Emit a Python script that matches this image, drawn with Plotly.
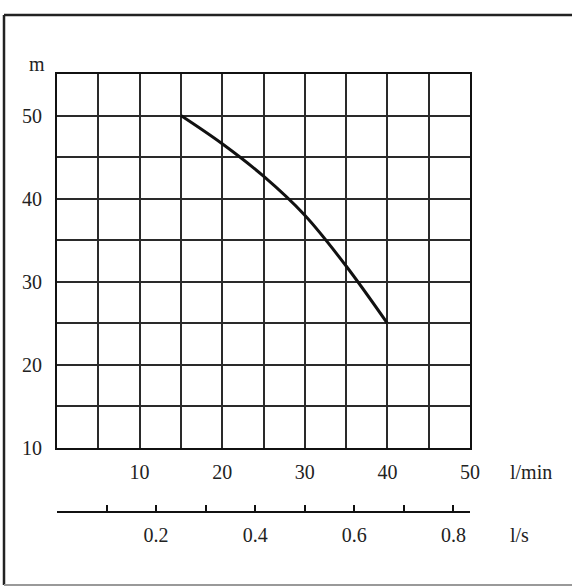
import plotly.graph_objects as go

# Data
flow_lpm = [15, 20, 25, 30, 35, 40]
head_m = [50, 46.6, 42.7, 38.0, 31.9, 25]

x_ticks = [10, 20, 30, 40, 50]
y_ticks = [10, 20, 30, 40, 50]
ls_ticks = [0.1, 0.2, 0.3, 0.4, 0.5, 0.6, 0.7, 0.8]
ls_labels = ["", "0.2", "", "0.4", "", "0.6", "", "0.8"]

W, H = 573, 588
L, R, T, B = 57, 103, 74, 40
pw, ph = W - L - R, H - T - B


def px(x):
    return (x - L) / pw


def py(y):
    return (H - B - y) / ph


FONT = dict(family="Liberation Serif, Times New Roman, serif", size=20, color="#222")
GRID = "#2a2a2a"

fig = go.Figure()
fig.add_trace(go.Scatter(
    x=flow_lpm, y=head_m, mode="lines",
    line=dict(color="#111", width=3, shape="spline", smoothing=1.0),
    showlegend=False, hoverinfo="skip",
))
fig.add_trace(go.Scatter(
    x=[q / 60 for q in flow_lpm], y=head_m, xaxis="x2", mode="lines",
    opacity=0, showlegend=False, hoverinfo="skip",
))

frame = [
    dict(x0=px(4), x1=px(572), y0=py(15), y1=py(15), color="#222", width=2.5),
    dict(x0=px(4), x1=px(4), y0=py(15), y1=py(585), color="#222", width=2.5),
    dict(x0=px(4), x1=px(572), y0=py(585), y1=py(585), color="#999", width=2),
]

fig.update_layout(
    width=W, height=H,
    margin=dict(l=L, r=R, t=T, b=B, pad=0),
    paper_bgcolor="white", plot_bgcolor="white",
    font=FONT,
    xaxis=dict(
        range=[0, 50], tickvals=x_ticks, ticktext=[str(v) for v in x_ticks],
        showgrid=True, gridcolor=GRID, gridwidth=1.5,
        minor=dict(dtick=5, tick0=0, showgrid=True, gridcolor=GRID, gridwidth=1.5),
        showline=True, linecolor="#111", linewidth=2, mirror=True,
        zeroline=False, ticks="", ticklabelstandoff=5,
        anchor="y", fixedrange=True,
    ),
    yaxis=dict(
        range=[10, 55], domain=[py(448), 1],
        tickvals=y_ticks, ticktext=[str(v) for v in y_ticks],
        showgrid=True, gridcolor=GRID, gridwidth=1.5,
        minor=dict(dtick=5, tick0=0, showgrid=True, gridcolor=GRID, gridwidth=1.5),
        showline=True, linecolor="#111", linewidth=2, mirror=True,
        zeroline=False, ticks="", ticklabelstandoff=9, fixedrange=True,
    ),
    xaxis2=dict(
        overlaying="x", anchor="free", position=py(512), side="bottom",
        range=[0, 50 / 60], tickvals=ls_ticks, ticktext=ls_labels,
        showgrid=False, zeroline=False,
        showline=True, linecolor="#111", linewidth=1.5,
        ticks="inside", ticklen=6, tickwidth=1.5, tickcolor="#111",
        ticklabelstandoff=5, fixedrange=True,
    ),
    annotations=[
        dict(text="m", x=px(37), y=py(64), xref="paper", yref="paper",
             showarrow=False, xanchor="center", yanchor="middle", font=FONT),
        dict(text="l/min", x=px(508), y=py(472), xref="paper", yref="paper",
             showarrow=False, xanchor="left", yanchor="middle", font=FONT),
        dict(text="l/s", x=px(508), y=py(535), xref="paper", yref="paper",
             showarrow=False, xanchor="left", yanchor="middle", font=FONT),
    ],
    shapes=[
        dict(type="line", xref="paper", yref="paper",
             x0=f["x0"], x1=f["x1"], y0=f["y0"], y1=f["y1"],
             line=dict(color=f["color"], width=f["width"]), layer="below")
        for f in frame
    ],
)

fig.write_html(
    "out.html",
    config={"displayModeBar": False},
    post_script="document.body.style.margin='0';document.body.style.overflow='hidden';",
)
